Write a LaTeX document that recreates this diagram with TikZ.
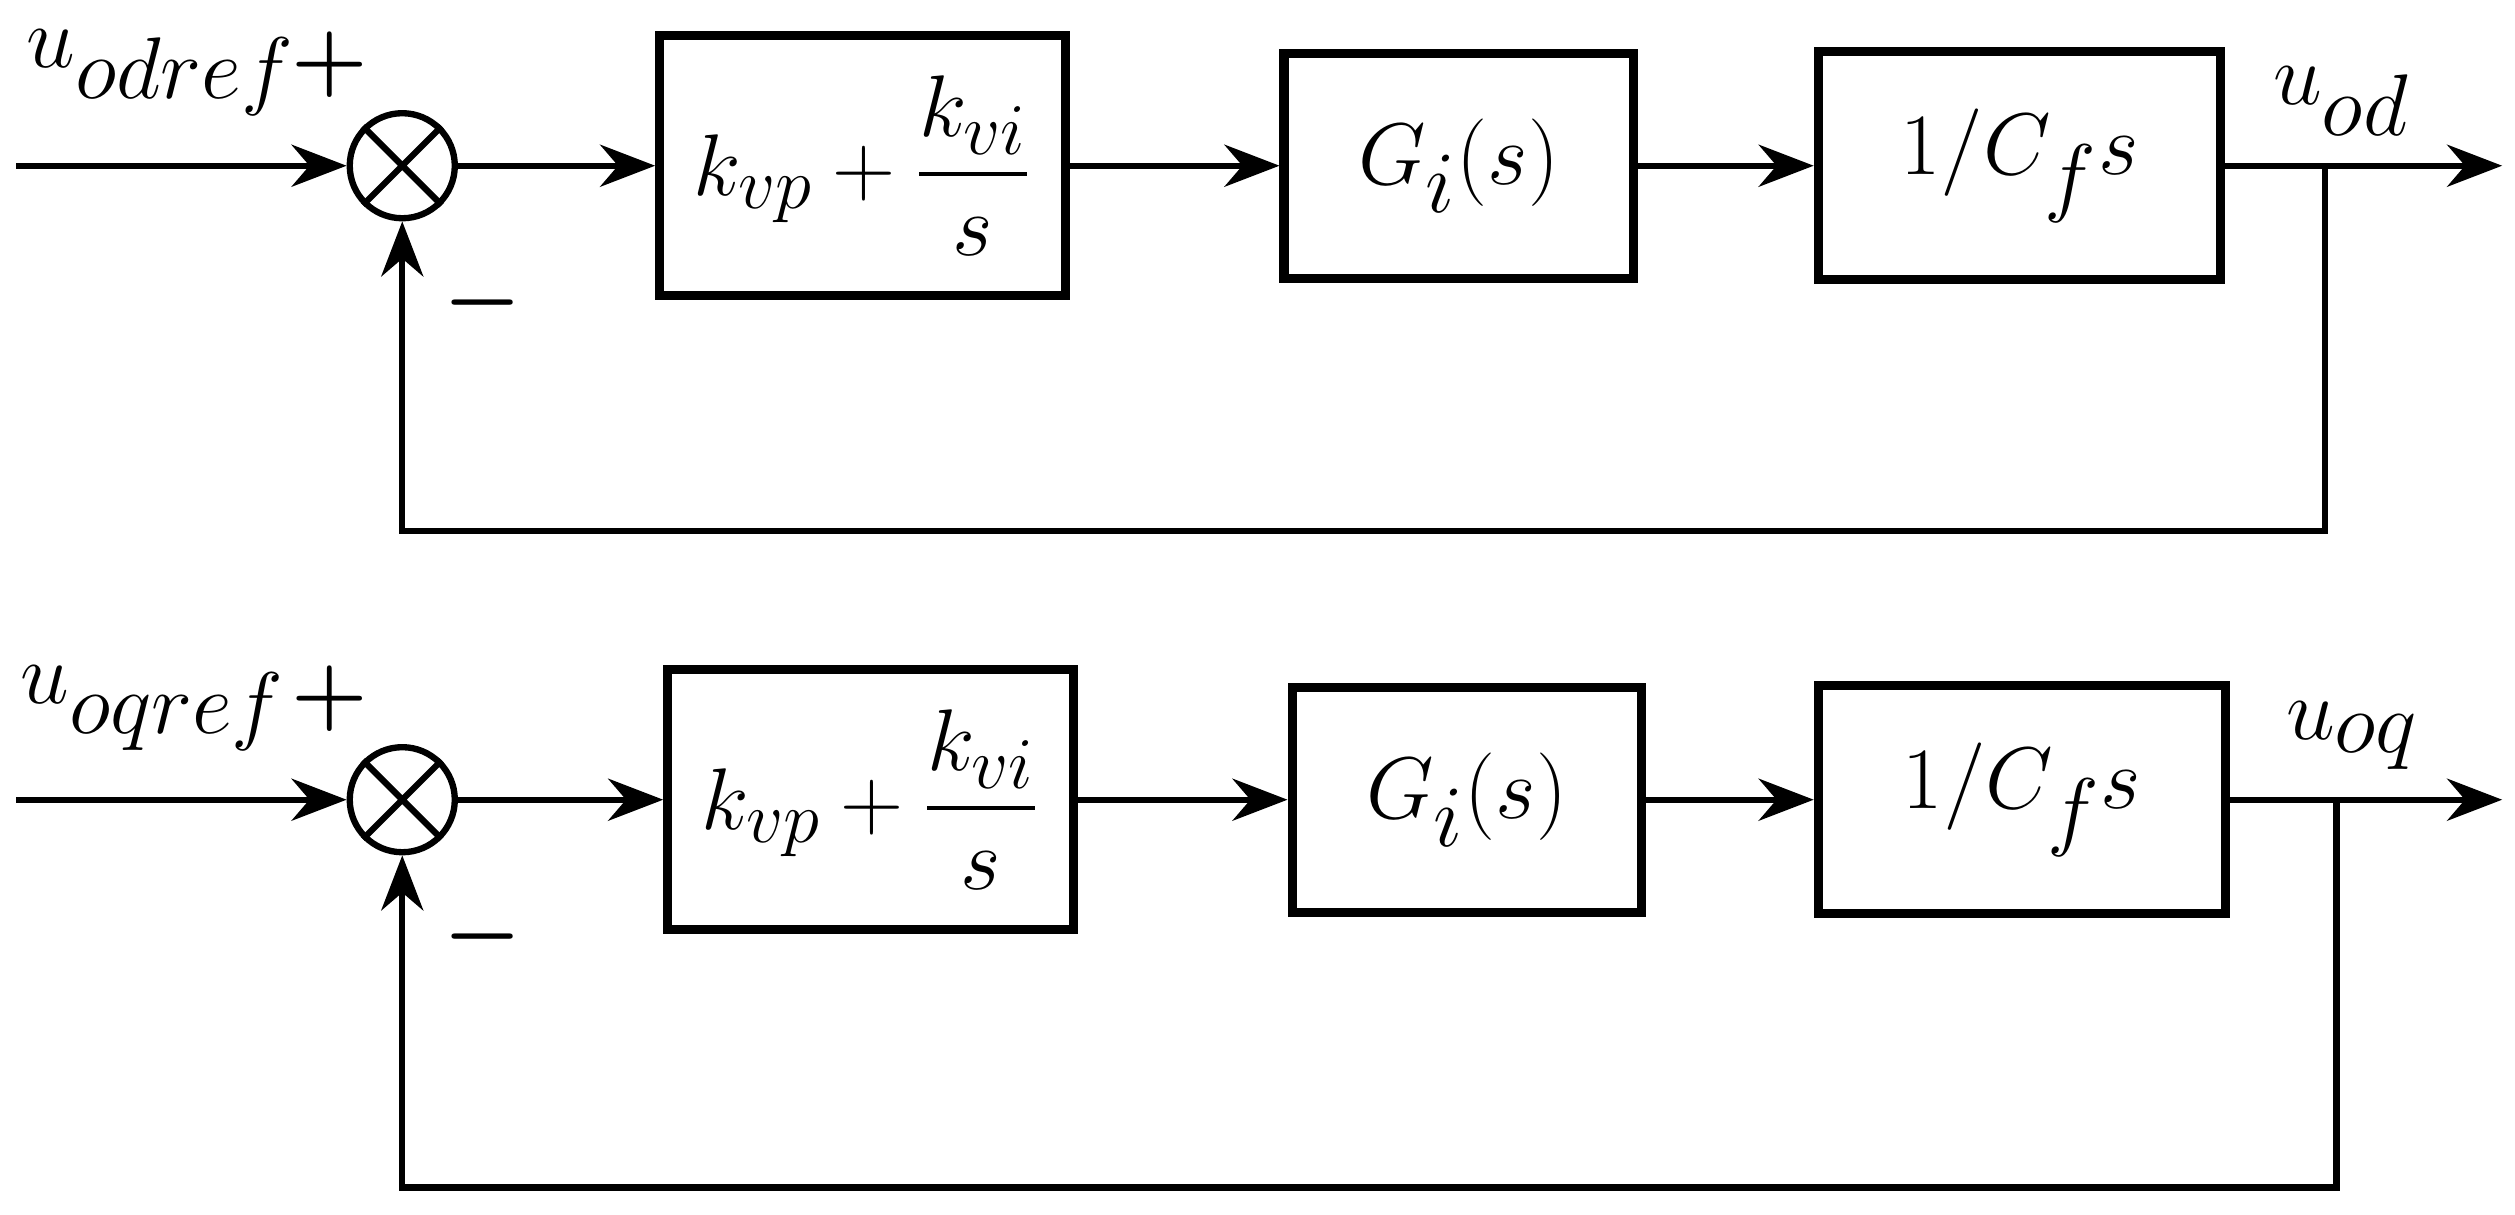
\documentclass[tikz,border=0pt]{standalone}
\usepackage{amsmath}
\usepackage{tikz}
\usetikzlibrary{arrows.meta}
\usetikzlibrary{positioning}

\begin{document}
\begin{tikzpicture}[x=0.01609cm, y=-0.01609cm, line width=1.8pt,
	>={Stealth[length=5.5mm,width=4.2mm]},
	blk/.style={rectangle, draw, line width=2.6pt, inner sep=0pt},
	sumj/.style={circle, draw, minimum size=1.05cm, inner sep=0pt},
	sig/.style={font=\fontsize{42}{46}\selectfont},
	sgn/.style={font=\fontsize{26}{30}\selectfont\bfseries},
]
\useasboundingbox (0,0) rectangle (1563,755);
%
\foreach \r/\yy/\ya/\xa/\xb/\xc/\xd/\xe/\xf/\xo/\bot/\nm in
	{1/103/22/410/662/798/1015/1130/1380/1445/330/d,
	 2/497/415/415/667/803/1020/1130/1383/1452/738/q} {
\node [sumj] (S\r) at (250,\yy) {};
\draw (S\r.45) -- (S\r.225) (S\r.135) -- (S\r.315);
\node [blk, minimum width={(\xb-\xa)*0.01609cm}, minimum height=2.6cm,
	font=\fontsize{28}{32}\selectfont] (PI\r) at ({(\xa+\xb)/2},\yy)
	{$k_{vp}+\dfrac{k_{vi}}{s}$};
\node [blk, minimum width={(\xd-\xc)*0.01609cm}, minimum height=2.25cm,
	font=\fontsize{54}{58}\selectfont] (G\r) at ({(\xc+\xd)/2},\yy) {$G_i(s)$};
\node [blk, minimum width={(\xf-\xe)*0.01609cm}, minimum height=2.28cm,
	font=\fontsize{50}{54}\selectfont] (C\r) at ({(\xe+\xf)/2},\yy) {$1/C_f s$};
\coordinate (in\r) at (10,\yy);
\coordinate (out\r) at (1555,\yy);
\coordinate (br\r) at (\xo,\yy);
\coordinate (fb\r) at (\xo,\bot);
\coordinate (fc\r) at (S\r |- fb\r);
%
\draw [->] (in\r) -- (S\r);
\draw [->] (S\r) -- (PI\r);
\draw [->] (PI\r) -- (G\r);
\draw [->] (G\r) -- (C\r);
\draw [->] (C\r) -- (out\r);
\draw [->] (br\r) -- (fb\r) -- (fc\r) -- (S\r);
%
\node [sgn] (P\r) at (205,{\yy-63}) {$\boldsymbol{+}$};
\node [sgn] (M\r) at (300,{\yy+85}) {$\boldsymbol{-}$};
\node [sig] (Y\r) at ({\xo+10},{\yy-40}) {$u_{o\nm}$};
}
\node [sig] (R1) at (100,45) {$u_{odref}$};
\node [sig] (R2) at (95,440) {$u_{oqref}$};
\end{tikzpicture}
\end{document}
